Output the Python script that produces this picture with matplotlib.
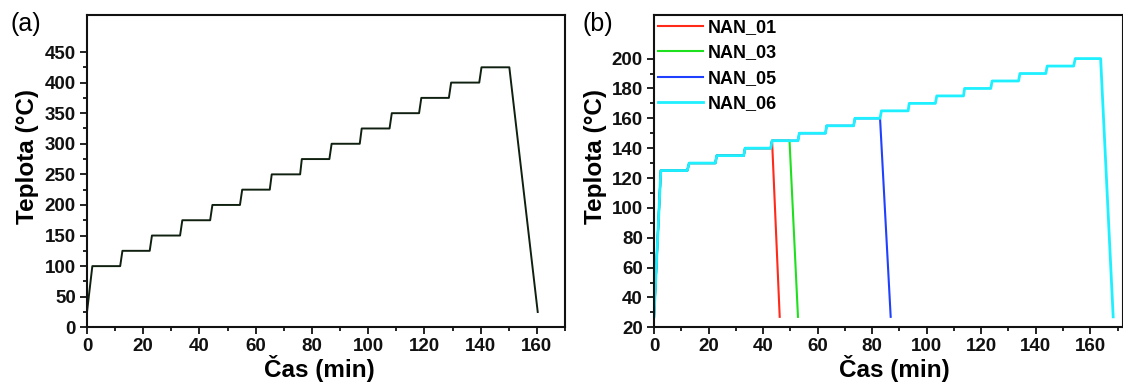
import matplotlib
matplotlib.use("Agg")
import matplotlib.pyplot as plt
from matplotlib.ticker import FixedLocator

plt.rcParams['font.family'] = ['Liberation Sans', 'DejaVu Sans']

# (a) teplotní program - schody po 25 °C
a_time = [0, 1.9, 11.8, 12.6, 22.3, 23.1, 33.1, 33.9, 43.8, 44.6, 54.4, 55.2,
          65.0, 65.7, 75.8, 76.4, 86.2, 87.0, 97.0, 97.7, 107.6, 108.4,
          118.1, 118.9, 128.7, 129.5, 139.5, 140.3, 150.2, 160.3]
a_temp = [25, 100, 100, 125, 125, 150, 150, 175, 175, 200, 200, 225,
          225, 250, 250, 275, 275, 300, 300, 325, 325, 350,
          350, 375, 375, 400, 400, 425, 425, 25]

# (b) vzorky NAN - schody po 5 °C
nan06_time = [0, 2.5, 12.2, 12.9, 22.5, 23.0, 32.9, 33.4, 42.8, 43.3, 52.8, 53.3,
              62.9, 63.3, 73.2, 73.7, 82.9, 83.4, 93.2, 93.6, 103.2, 103.7,
              113.5, 113.9, 123.5, 124.0, 133.7, 134.2, 143.7, 144.2, 153.9, 154.5,
              163.8, 168.4]
nan06_temp = [27, 125, 125, 130, 130, 135, 135, 140, 140, 145, 145, 150,
              150, 155, 155, 160, 160, 165, 165, 170, 170, 175,
              175, 180, 180, 185, 185, 190, 190, 195, 195, 200,
              200, 27]
nan01_time = [0, 2.5, 12.2, 12.9, 22.5, 23.0, 32.9, 33.4, 42.8, 43.3, 46.1]
nan01_temp = [27, 125, 125, 130, 130, 135, 135, 140, 140, 145, 27]
nan03_time = [0, 2.5, 12.2, 12.9, 22.5, 23.0, 32.9, 33.4, 42.8, 43.3, 49.7, 52.8]
nan03_temp = [27, 125, 125, 130, 130, 135, 135, 140, 140, 145, 145, 27]
nan05_time = [0, 2.5, 12.2, 12.9, 22.5, 23.0, 32.9, 33.4, 42.8, 43.3, 52.8, 53.3,
              62.9, 63.3, 73.2, 73.7, 82.9, 86.8]
nan05_temp = [27, 125, 125, 130, 130, 135, 135, 140, 140, 145, 145, 150,
              150, 155, 155, 160, 160, 27]

series_b = [("NAN_01", nan01_time, nan01_temp, "#ff2a1a", 1.5),
            ("NAN_03", nan03_time, nan03_temp, "#1ee01e", 1.5),
            ("NAN_05", nan05_time, nan05_temp, "#2040ff", 1.5),
            ("NAN_06", nan06_time, nan06_temp, "#1ef0ff", 2.0)]

W, H = 1123, 382
fig = plt.figure(figsize=(W / 100, H / 100), dpi=100)

ax_a = fig.add_axes([87 / W, 1 - 327.3 / H, (565 - 87) / W, (327.3 - 15.3) / H])
ax_b = fig.add_axes([654 / W, 1 - 327.3 / H, (1123 - 654) / W, (327.3 - 15.3) / H])


def style_axes(ax):
    for s in ax.spines.values():
        s.set_linewidth(1.5)
        s.set_color("#111111")
    ax.tick_params(which="both", direction="out", top=False, right=False,
                   width=1.3, colors="#111111", labelsize=13.5)
    ax.tick_params(which="major", length=5, pad=3)
    ax.tick_params(which="minor", length=3)
    for lab in ax.get_xticklabels() + ax.get_yticklabels():
        lab.set_fontweight("bold")
    ax.set_xlabel("Čas (min)", fontsize=17.5, fontweight="bold")
    ax.set_ylabel("Teplota (°C)", fontsize=17.5, fontweight="bold")


# panel (a)
ax_a.plot(a_time, a_temp, color="#102010", lw=1.4)
ax_a.set_xlim(0, 170)
ax_a.set_ylim(0, 510)
ax_a.xaxis.set_major_locator(FixedLocator(range(0, 161, 20)))
ax_a.xaxis.set_minor_locator(FixedLocator(range(10, 171, 20)))
ax_a.yaxis.set_major_locator(FixedLocator(range(0, 451, 50)))
ax_a.yaxis.set_minor_locator(FixedLocator(range(25, 451, 50)))
style_axes(ax_a)
ax_a.xaxis.set_label_coords(0.487, -0.090)
ax_a.yaxis.set_label_coords(-0.100, 0.546)

# panel (b)
for name, t, T, c, lw in series_b:
    ax_b.plot(t, T, color=c, lw=lw, label=name)
ax_b.set_xlim(0, 172)
ax_b.set_ylim(20, 229)
ax_b.xaxis.set_major_locator(FixedLocator(range(0, 161, 20)))
ax_b.xaxis.set_minor_locator(FixedLocator(range(10, 171, 20)))
ax_b.yaxis.set_major_locator(FixedLocator(range(20, 201, 20)))
ax_b.yaxis.set_minor_locator(FixedLocator(range(30, 201, 20)))
style_axes(ax_b)
ax_b.xaxis.set_label_coords(0.512, -0.090)
ax_b.yaxis.set_label_coords(-0.100, 0.546)

leg = ax_b.legend(loc="upper left", frameon=False, prop={"size": 13, "weight": "bold"},
                  handlelength=2.5, handletextpad=0.3, labelspacing=0.47,
                  borderaxespad=0.0, borderpad=0.2, bbox_to_anchor=(0.0, 1.0))

fig.text(11 / W, 1 - 12 / H, "(a)", fontsize=18, va="top", ha="left")
fig.text(582 / W, 1 - 12 / H, "(b)", fontsize=18, va="top", ha="left")

fig.savefig("out.png", dpi=100)
